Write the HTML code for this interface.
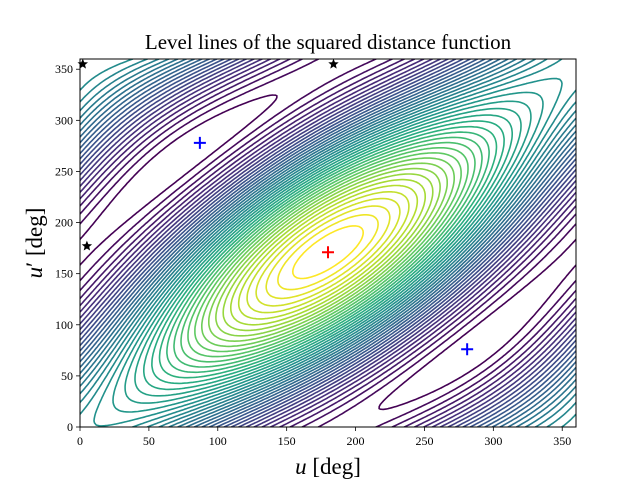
<!DOCTYPE html>
<html><head><meta charset="utf-8"><style>
body{margin:0;background:#fff;width:640px;height:480px;overflow:hidden}
text{font-family:"Liberation Serif",serif}
</style></head><body>
<svg id="s" width="640" height="480" xmlns="http://www.w3.org/2000/svg">
<rect width="640" height="480" fill="#fff"/>
<defs><clipPath id="c"><rect x="80" y="59" width="496" height="368"/></clipPath></defs>
<g id="cont" clip-path="url(#c)" fill="none" stroke-width="1.6"></g>
<rect x="80" y="59" width="496" height="368" fill="none" stroke="#000" stroke-width="1"/>
<g id="ticks" stroke="#000" stroke-width="0.8"></g>
<g id="tl" font-size="12" fill="#000"></g>
<text x="328" y="49" font-size="21" text-anchor="middle">Level lines of the squared distance function</text>
<text x="328" y="474" font-size="23" text-anchor="middle"><tspan font-style="italic">u</tspan> [deg]</text>
<text transform="translate(42,243) rotate(-90)" font-size="23" text-anchor="middle"><tspan font-style="italic">u</tspan>′ [deg]</text>
<g id="mk"></g>
</svg>
<script>
var X=function(u){return 80+u*496/360},Y=function(v){return 427-v*368/360};
var ns="http://www.w3.org/2000/svg";
function el(p,t,a,txt){var e=document.createElementNS(ns,t);for(var k in a)e.setAttribute(k,a[k]);if(txt!=null)e.textContent=txt;p.appendChild(e);return e}
var tk=document.getElementById('ticks'),tl=document.getElementById('tl');
for(var i=0;i<=350;i+=50){
 el(tk,'line',{x1:X(i),y1:427,x2:X(i),y2:431});
 el(tl,'text',{x:X(i),y:445,'text-anchor':'middle'},i);
 el(tk,'line',{x1:80,y1:Y(i),x2:76,y2:Y(i)});
 el(tl,'text',{x:73,y:Y(i)+4,'text-anchor':'end'},i);
}
var d=Math.PI/180,B=1,C=0.95,D=2.8;
function f(u,v){return -B*Math.cos(u*d)-C*Math.cos((v+9)*d)+D*Math.cos((u-v-9)*d)}
var st=2,N=180,g=[],mn=1e9,mx=-1e9;
for(var j=0;j<=N;j++){g[j]=[];for(var i=0;i<=N;i++){var z=f(i*st,j*st);g[j][i]=z;if(z<mn)mn=z;if(z>mx)mx=z;}}
var anch=[[68,1,84],[71,45,123],[59,82,139],[44,114,142],[33,145,140],[40,174,128],[94,201,98],[173,220,48],[253,231,37]];
function vir(t){t=Math.max(0,Math.min(1,t))*8;var k=Math.min(7,Math.floor(t)),r=t-k,a=anch[k],b=anch[k+1];
 return 'rgb('+[0,1,2].map(function(q){return Math.round(a[q]+(b[q]-a[q])*r)}).join(',')+')'}
var cg=document.getElementById('cont'),L=45;
for(var l=0;l<L;l++){
 var lv=mn+(l+1)*(mx-mn)/(L+1),p=[];
 for(var j=0;j<N;j++)for(var i=0;i<N;i++){
  var a=g[j][i],b=g[j][i+1],c=g[j+1][i+1],e=g[j+1][i];
  var pts=[];
  function ed(z1,z2,x1,y1,x2,y2){if((z1<lv)!=(z2<lv)){var t=(lv-z1)/(z2-z1);pts.push([X((x1+(x2-x1)*t)*st),Y((y1+(y2-y1)*t)*st)])}}
  ed(a,b,i,j,i+1,j);ed(b,c,i+1,j,i+1,j+1);ed(e,c,i,j+1,i+1,j+1);ed(a,e,i,j,i,j+1);
  if(pts.length==2)p.push('M'+pts[0][0].toFixed(1)+' '+pts[0][1].toFixed(1)+'L'+pts[1][0].toFixed(1)+' '+pts[1][1].toFixed(1));
  else if(pts.length==4){p.push('M'+pts[0][0].toFixed(1)+' '+pts[0][1].toFixed(1)+'L'+pts[1][0].toFixed(1)+' '+pts[1][1].toFixed(1));p.push('M'+pts[2][0].toFixed(1)+' '+pts[2][1].toFixed(1)+'L'+pts[3][0].toFixed(1)+' '+pts[3][1].toFixed(1));}
 }
 if(p.length)el(cg,'path',{d:p.join(''),stroke:vir(l/(L-1)),'stroke-linecap':'round'});
}
var mk=document.getElementById('mk');
function plus(u,v,col){var x=X(u),y=Y(v);el(mk,'path',{d:'M'+(x-6)+' '+y+'H'+(x+6)+'M'+x+' '+(y-6)+'V'+(y+6),stroke:col,'stroke-width':2,fill:'none'})}
plus(180,171,'red');plus(87,278,'blue');plus(281,76,'blue');
function star(u,v){var x=X(u),y=Y(v),s='';for(var k=0;k<10;k++){var r=k%2?2.4:5.5,a=-Math.PI/2+k*Math.PI/5;s+=(k?'L':'M')+(x+r*Math.cos(a)).toFixed(1)+' '+(y+r*Math.sin(a)).toFixed(1)}el(mk,'path',{d:s+'Z',fill:'#000'})}
star(2,355);star(184,355);star(5,177);
</script>
</body></html>
